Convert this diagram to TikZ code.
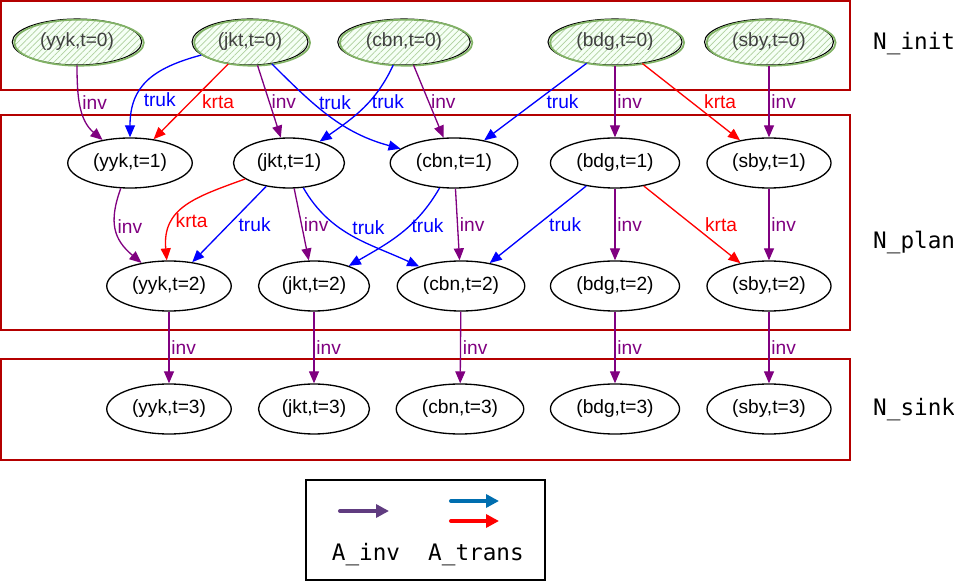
\documentclass[tikz,border=0pt]{standalone}
\usepackage{fontspec}
\setmainfont{Liberation Sans}
\setmonofont{DejaVu Sans Mono}
\usepackage{tikz}
\usetikzlibrary{shapes.geometric, arrows.meta, patterns.meta}

\definecolor{boxred}{RGB}{180,0,0}
\definecolor{invcol}{RGB}{128,0,128}
\definecolor{trukcol}{RGB}{0,0,255}
\definecolor{krtacol}{RGB}{255,0,0}
\definecolor{hatchgreen}{RGB}{175,208,158}
\definecolor{ringgreen}{RGB}{130,179,102}
\definecolor{legpurple}{RGB}{96,60,128}
\definecolor{legblue}{RGB}{0,110,175}

\newcommand{\nodefont}{\fontsize{10.9}{13}\selectfont}
\newcommand{\setfont}{\fontsize{12.9}{15}\selectfont\ttfamily}

\tikzset{
  plannode/.style={ellipse, draw=black, line width=0.75pt, inner xsep=4pt, minimum height=1cm, font=\nodefont},
  initnode/.style={ellipse, draw=black, line width=0.6pt, inner xsep=5pt, minimum height=0.92cm, font=\nodefont, text=black!75,
      preaction={fill=green!4},
      pattern={Lines[angle=45, distance=2.5pt, line width=0.4pt]}, pattern color=hatchgreen,
      postaction={draw=ringgreen, line width=1pt, transform canvas={xshift=1.2pt, yshift=-0.4pt}}},
  conn/.style={line width=0.75pt, -{Triangle[length=0.24cm, width=0.2cm]}},
  invedge/.style={conn, invcol},
  trukedge/.style={conn, trukcol},
  krtaedge/.style={conn, krtacol},
  lbl/.style={font=\nodefont, inner sep=1pt, anchor=west},
  setbox/.style={boxred, line width=0.75pt},
  setname/.style={font=\setfont, anchor=west},
  legarrow/.style={line width=2.3pt, line cap=round, -{Triangle[length=0.26cm, width=0.26cm]}}
}

\begin{document}
\begin{tikzpicture}

    \useasboundingbox (0,0) rectangle (19.08,-11.64);

    % ==========================================
    % CONJUNTOS DE NODOS
    % ==========================================
    \draw[setbox] (0.02,-0.02) rectangle (17.0,-1.8);
    \draw[setbox] (0.02,-2.3) rectangle (17.0,-6.6);
    \draw[setbox] (0.02,-7.18) rectangle (17.0,-9.2);

    \node[setname] (ninit) at (17.34,-0.88) {N\_init};
    \node[setname] (nplan) at (17.34,-4.86) {N\_plan};
    \node[setname] (nsink) at (17.34,-8.2) {N\_sink};

    % Nodos t=0
    \foreach \c/\x in {yyk/1.54, jkt/5.0, cbn/8.08, bdg/12.3, sby/15.38}
        \node[initnode] (\c0) at (\x,-0.84) {(\c,t=0)};

    % Nodos t=1
    \foreach \c/\x in {yyk/2.6, jkt/5.78, cbn/9.08, bdg/12.3, sby/15.38}
        \node[plannode] (\c1) at (\x,-3.26) {(\c,t=1)};

    % Nodos t=2
    \foreach \c/\x in {yyk/3.38, jkt/6.28, cbn/9.22, bdg/12.3, sby/15.38}
        \node[plannode] (\c2) at (\x,-5.72) {(\c,t=2)};

    % Nodos t=3
    \foreach \c/\x in {yyk/3.38, jkt/6.28, cbn/9.2, bdg/12.3, sby/15.38}
        \node[plannode] (\c3) at (\x,-8.18) {(\c,t=3)};

    % --- ARCOS t=0 -> t=1 ---
    \draw[invedge] (yyk0) to[out=-90, in=140] node[lbl, pos=0.45] {inv} (yyk1);
    \draw[trukedge] (jkt0) to[out=195, in=90, looseness=1.2] node[lbl, pos=0.7, xshift=3pt] {truk} (yyk1);
    \draw[krtaedge] (jkt0) -- node[lbl, xshift=5pt] {krta} (yyk1);
    \draw[invedge] (jkt0) -- node[lbl] {inv} (jkt1);
    \draw[trukedge] (jkt0) to[out=-45, in=165] node[lbl, pos=0.35, xshift=2pt] {truk} (cbn1);
    \draw[trukedge] (cbn0) to[out=-115, in=35] node[lbl, pos=0.4] {truk} (jkt1);
    \draw[invedge] (cbn0) -- node[lbl] {inv} (cbn1);
    \draw[trukedge] (bdg0) -- node[lbl, xshift=5pt] {truk} (cbn1);
    \draw[invedge] (bdg0) -- node[lbl] {inv} (bdg1);
    \draw[krtaedge] (bdg0) -- node[lbl, xshift=6pt] {krta} (sby1);
    \draw[invedge] (sby0) -- node[lbl] {inv} (sby1);

    % --- ARCOS t=1 -> t=2 ---
    \draw[invedge] (yyk1) to[out=-110, in=140, looseness=1.2] node[lbl, pos=0.45] {inv} (yyk2);
    \draw[krtaedge] (jkt1) to[out=200, in=95, looseness=1.2] node[lbl, pos=0.68] {krta} (yyk2);
    \draw[trukedge] (jkt1) -- node[lbl, xshift=4pt] {truk} (yyk2);
    \draw[invedge] (jkt1) -- node[lbl] {inv} (jkt2);
    \draw[trukedge] (jkt1) to[out=-60, in=155] node[lbl, pos=0.38, xshift=6pt] {truk} (cbn2);
    \draw[trukedge] (cbn1) to[out=-120, in=30] node[lbl, pos=0.4] {truk} (jkt2);
    \draw[invedge] (cbn1) -- node[lbl] {inv} (cbn2);
    \draw[trukedge] (bdg1) -- node[lbl, xshift=5pt] {truk} (cbn2);
    \draw[invedge] (bdg1) -- node[lbl] {inv} (bdg2);
    \draw[krtaedge] (bdg1) -- node[lbl, xshift=6pt] {krta} (sby2);
    \draw[invedge] (sby1) -- node[lbl] {inv} (sby2);

    % --- ARCOS t=2 -> t=3 ---
    \foreach \c in {yyk, jkt, cbn, bdg, sby}
        \draw[invedge] (\c2) -- node[lbl] {inv} (\c3);

    % ==========================================
    % LEYENDA
    % ==========================================
    \draw[line width=0.9pt] (6.12,-9.6) rectangle (10.9,-11.6);

    \coordinate (invA) at (6.8,-10.22);   \coordinate (invB) at (7.78,-10.22);
    \coordinate (trukA) at (9.02,-10.02); \coordinate (trukB) at (9.98,-10.02);
    \coordinate (krtaA) at (9.02,-10.42); \coordinate (krtaB) at (9.98,-10.42);

    \draw[legarrow, legpurple] (invA) -- (invB);
    \draw[legarrow, legblue] (trukA) -- (trukB);
    \draw[legarrow, krtacol] (krtaA) -- (krtaB);

    \node[setname, anchor=center] (ainv) at (7.32,-11.1) {A\_inv};
    \node[setname, anchor=center] (atrans) at (9.52,-11.1) {A\_trans};

\end{tikzpicture}
\end{document}
